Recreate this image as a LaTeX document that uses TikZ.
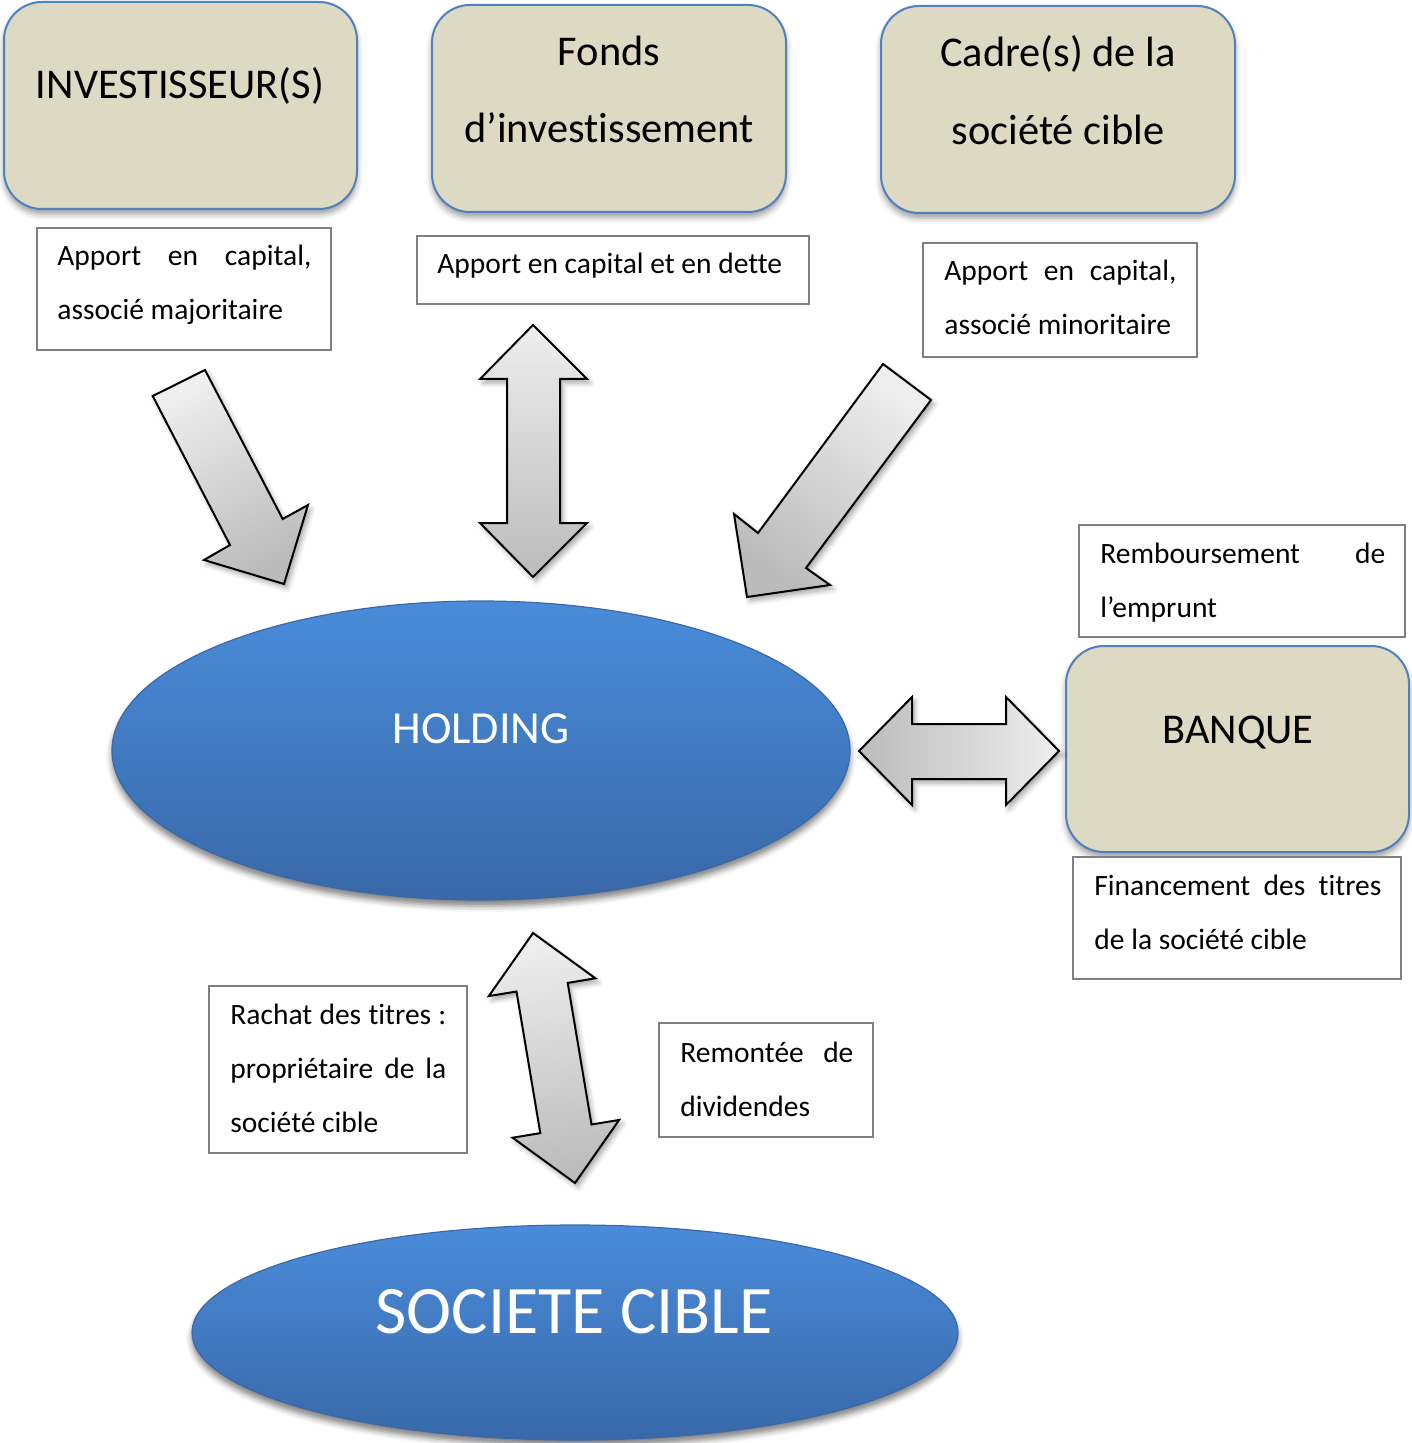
\documentclass[tikz,border=0pt]{standalone}
\usepackage{fontspec}
\setmainfont[Ligatures={NoCommon}]{Carlito}
\usetikzlibrary{shapes.geometric,shadows.blur}
\newdimen\pxu \pxu=0.5pt
\newcommand\jl[2]{\makebox[#1\pxu][s]{#2}}
\definecolor{boxfill}{HTML}{DDD9C3}
\definecolor{boxedge}{HTML}{4F81BD}
\definecolor{tedge}{HTML}{808080}
\definecolor{elltop}{HTML}{4A8CDA}
\definecolor{ellbot}{HTML}{3868A8}
\definecolor{elledge}{HTML}{3A68A8}
\definecolor{arlight}{HTML}{EEEEEE}
\definecolor{ardark}{HTML}{BBBBBB}
\begin{document}
\begin{tikzpicture}[x=0.5pt,y=-0.5pt,
  actor/.style={draw=boxedge, line width=1pt, fill=boxfill, rounded corners=19pt,
    blur shadow={shadow xshift=0pt, shadow yshift=-2.5pt, shadow blur radius=3pt, shadow opacity=40}},
  tbox/.style={draw=tedge, line width=1pt, fill=white},
  big/.style={font=\fontsize{21.2}{25}\selectfont, inner sep=0pt},
  sm/.style={font=\fontsize{14.75}{18}\selectfont, inner sep=0pt},
  oval/.style={ellipse, draw=elledge, line width=0.6pt, top color=elltop, bottom color=ellbot,
    inner sep=0pt, blur shadow={shadow xshift=0pt, shadow yshift=-3pt, shadow blur radius=3pt, shadow opacity=50}},
  blk/.style={draw=black, line width=1pt, line join=miter,
    blur shadow={shadow xshift=1.5pt, shadow yshift=-2pt, shadow blur radius=2.5pt, shadow opacity=35}},
]
\useasboundingbox (0,0) rectangle (1411,1443);

% actor boxes
\node[actor, minimum width=176.5pt, minimum height=103.5pt] (inv) at (180.5,105.5) {};
\node[actor, minimum width=177pt, minimum height=103.5pt] (fonds) at (609,108.5) {};
\node[actor, minimum width=177pt, minimum height=103.5pt] (cadre) at (1058,109.5) {};
\node[actor, minimum width=171.5pt, minimum height=103pt] (banque) at (1237.5,749) {};

\node[big, anchor=base] (invt) at (180,99) {INVESTISSEUR(S)};
\node[big, anchor=base] (fondsa) at (609,66) {Fonds};
\node[big, anchor=base] (fondsb) at (609,143) {d’investissement};
\node[big, anchor=base] (cadrea) at (1058,67) {Cadre(s) de la};
\node[big, anchor=base] (cadreb) at (1058,145) {société cible};
\node[big, anchor=base] (banquet) at (1238,743) {BANQUE};

% ellipses
\node[oval, minimum width=369pt, minimum height=149.5pt] (holding) at (481,750.5) {};
\node[anchor=base, inner sep=0pt, text=white, font=\fontsize{23}{27}\selectfont] (holdingt) at (481,743) {HOLDING};
\node[oval, minimum width=383pt, minimum height=107.5pt] (cible) at (575,1332.5) {};
\node[anchor=base, inner sep=0pt, text=white, font=\fontsize{34}{40}\selectfont] (ciblet) at (574,1333) {SOCIETE CIBLE};

% text boxes
\node[tbox, minimum width=147pt, minimum height=61pt] (t1) at (184,289) {};
\node[sm, anchor=base west] (t1a) at (57,266) {\jl{254}{Apport en capital,}};
\node[sm, anchor=base west] (t1b) at (57,320) {associé majoritaire};

\node[tbox, minimum width=196pt, minimum height=34pt] (t2) at (613,270) {};
\node[sm, anchor=base west] (t2a) at (437,274) {Apport en capital et en dette};

\node[tbox, minimum width=137pt, minimum height=57pt] (t3) at (1060,300) {};
\node[sm, anchor=base west] (t3a) at (944,281) {\jl{232}{Apport en capital,}};
\node[sm, anchor=base west] (t3b) at (944,335) {associé minoritaire};

\node[tbox, minimum width=163pt, minimum height=56pt] (t4) at (1242,581) {};
\node[sm, anchor=base west] (t4a) at (1100,563) {\jl{285}{Remboursement de}};
\node[sm, anchor=base west] (t4b) at (1100,617) {l’emprunt};

\node[tbox, minimum width=164pt, minimum height=61pt] (t5) at (1237,918) {};
\node[sm, anchor=base west] (t5a) at (1094,895) {\jl{287}{Financement des titres}};
\node[sm, anchor=base west] (t5b) at (1094,949) {de la société cible};

\node[tbox, minimum width=129pt, minimum height=83.5pt] (t6) at (338,1069.5) {};
\node[sm, anchor=base west] (t6a) at (230,1024) {\jl{216}{Rachat des titres :}};
\node[sm, anchor=base west] (t6b) at (230,1078) {\jl{216}{propriétaire de la}};
\node[sm, anchor=base west] (t6c) at (230,1132) {société cible};

\node[tbox, minimum width=107pt, minimum height=57pt] (t7) at (766,1080) {};
\node[sm, anchor=base west] (t7a) at (680,1062) {\jl{173}{Remontée de}};
\node[sm, anchor=base west] (t7b) at (680,1116) {dividendes};

% block arrows
\draw[blk, top color=arlight, bottom color=ardark, shading angle=27.4]
  (152.7,396) -- (205,370) -- (282.7,519) -- (308,505) -- (284,584) -- (204,560) -- (230,545) -- cycle;
\draw[blk, top color=arlight, bottom color=ardark, shading angle=0]
  (533,325) -- (587,379) -- (560,379) -- (560,523) -- (587,523) -- (533,577)
  -- (480,523) -- (507,523) -- (507,379) -- (480,379) -- cycle;
\draw[blk, top color=arlight, bottom color=ardark, shading angle=-36.7]
  (883,364) -- (931,400) -- (806,568) -- (830,585) -- (747,597) -- (734,514) -- (758,533) -- cycle;
\draw[blk, top color=arlight, bottom color=ardark, shading angle=-90]
  (859,751) -- (912,697) -- (912,724) -- (1006,724) -- (1006,697) -- (1059,751)
  -- (1006,805) -- (1006,779) -- (912,779) -- (912,805) -- cycle;
\draw[blk, top color=arlight, bottom color=ardark, shading angle=9.5]
  (533,933) -- (595.4,978.3) -- (567.7,982.9) -- (591.5,1124.5) -- (619.2,1119.9) -- (575,1183)
  -- (512.6,1137.7) -- (540.3,1133.1) -- (516.5,991.5) -- (488.8,996.1) -- cycle;
\end{tikzpicture}
\end{document}
